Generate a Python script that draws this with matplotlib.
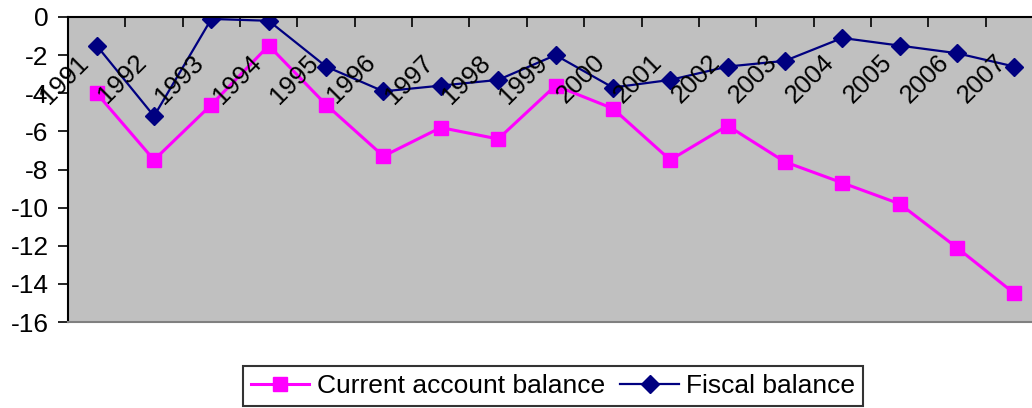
import matplotlib
matplotlib.use('Agg')
import matplotlib.pyplot as plt

plt.rcParams['font.family'] = ['Liberation Sans', 'DejaVu Sans']
plt.rcParams['axes.unicode_minus'] = False

# data (% of GDP)
years = ['1991', '1992', '1993', '1994', '1995', '1996', '1997', '1998', '1999',
         '2000', '2001', '2002', '2003', '2004', '2005', '2006', '2007']
current_account = [-4.0, -7.5, -4.6, -1.5, -4.6, -7.3, -5.8, -6.4, -3.6,
                   -4.8, -7.5, -5.7, -7.6, -8.7, -9.8, -12.1, -14.5]
fiscal = [-1.5, -5.2, -0.1, -0.2, -2.6, -3.9, -3.6, -3.3, -2.0,
          -3.7, -3.3, -2.6, -2.3, -1.1, -1.5, -1.9, -2.6]

fig = plt.figure(figsize=(10.32, 4.08), dpi=100)
# plot area runs past the right edge of the picture, as in the original
ax = fig.add_axes([68 / 1032, 1 - 322 / 408, 975 / 1032, 305 / 408])
ax.set_facecolor('#C0C0C0')

x = list(range(len(years)))
l1, = ax.plot(x, current_account, color='#FF00FF', lw=2.2, marker='s', ms=10.5,
              mec='#FF00FF', label='Current account balance')
l2, = ax.plot(x, fiscal, color='#000080', lw=1.6, marker='D', ms=9,
              label='Fiscal balance')

ax.set_xlim(-0.5, len(years) - 0.5)
ax.set_ylim(-16, 0)
ax.set_yticks(range(-16, 1, 2))
ax.tick_params(axis='y', direction='out', length=7, width=1.2, pad=7, labelsize=19)

# category axis sits at y=0 (top), ticks between categories, labels inside
ax.xaxis.tick_top()
ax.set_xticks([i - 0.5 for i in range(len(years) + 1)])
ax.set_xticklabels([])
ax.tick_params(axis='x', direction='in', length=7, width=1.2)
for i, yr in enumerate(years):
    ax.text(i - 0.2, -2.2, yr, rotation=45, ha='right', va='center',
            rotation_mode='anchor', fontsize=18.5, zorder=5)

ax.spines['left'].set_linewidth(1.5)
ax.spines['top'].set_linewidth(1.5)
ax.spines['bottom'].set_color('#808080')
ax.spines['bottom'].set_linewidth(1.5)
ax.spines['right'].set_visible(False)

leg = fig.legend(handles=[l1, l2], loc='upper center', ncol=2,
                 bbox_to_anchor=(553 / 1032, 1 - 366 / 408), fontsize=19,
                 frameon=True, fancybox=False, edgecolor='black',
                 handlelength=2.2, handletextpad=0.3, columnspacing=0.6,
                 borderpad=0.3, borderaxespad=0)
leg.get_frame().set_linewidth(1.5)

fig.savefig('out.png', dpi=100)
